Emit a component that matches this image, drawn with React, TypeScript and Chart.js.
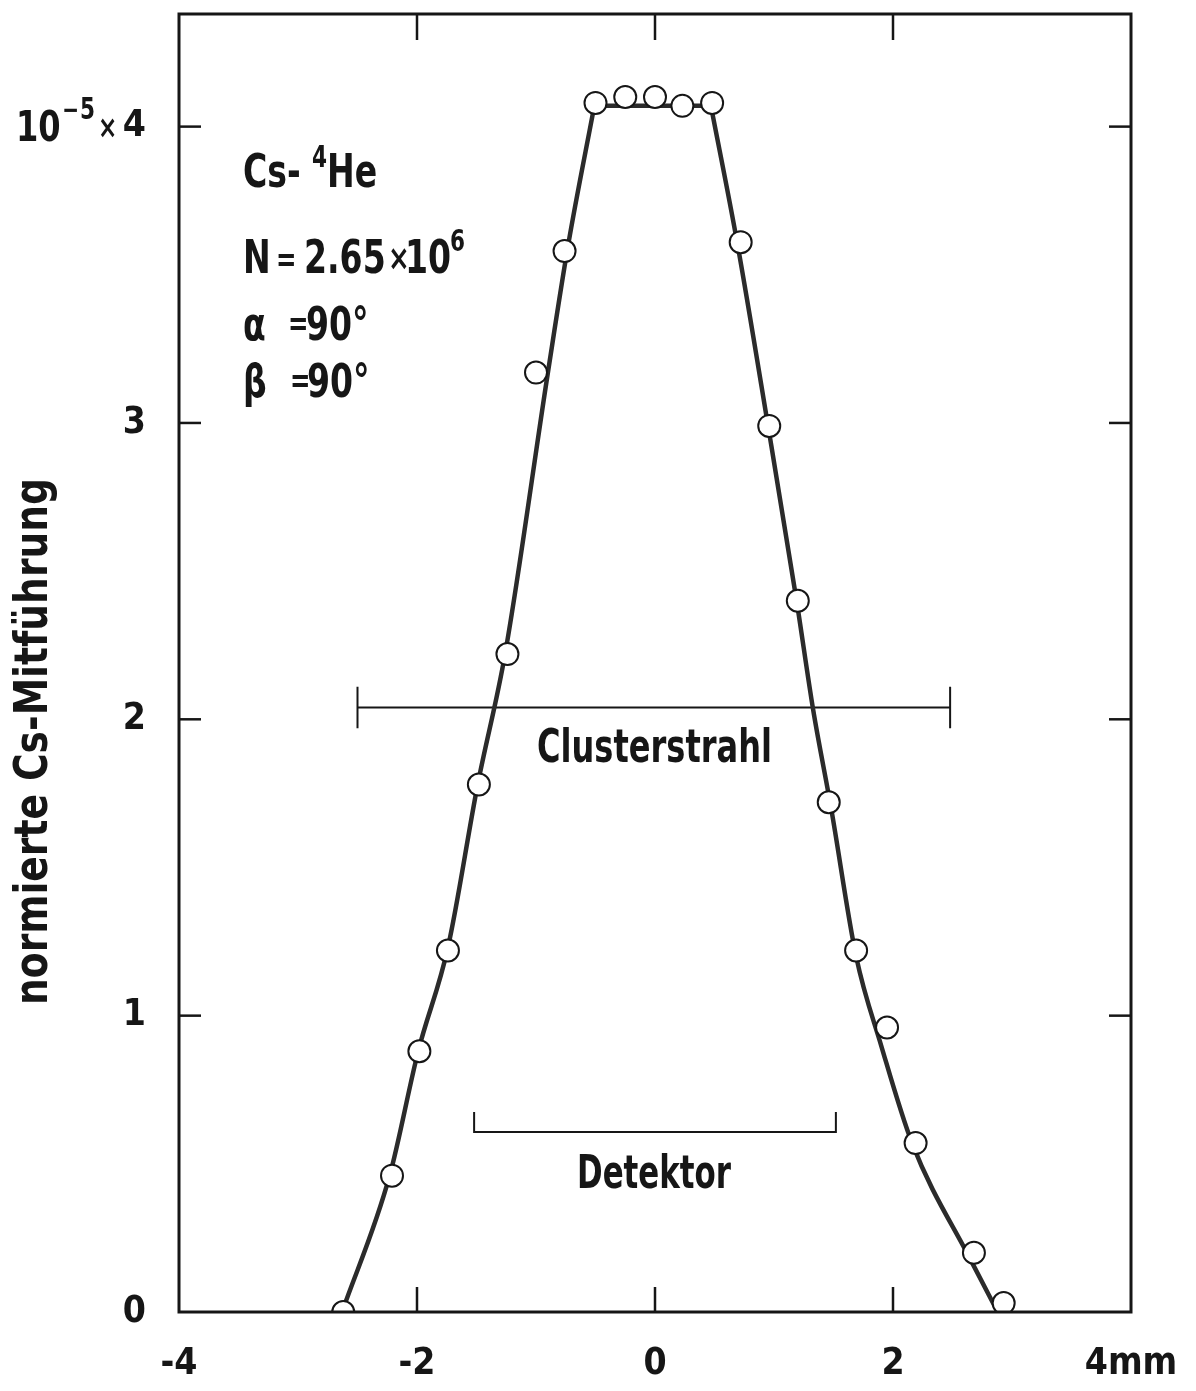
import React, { useEffect, useRef } from 'react';
import { Chart, registerables } from 'chart.js';

Chart.register(...registerables);

const FONT = "'Liberation Sans Narrow', 'DejaVu Sans Condensed', 'Roboto Condensed', 'Liberation Sans', sans-serif";
const INK = '#161616';

// measured points (x in mm, y in units of 1e-5)
const pointX = [-2.62, -2.21, -1.98, -1.74, -1.48, -1.24, -1.0, -0.76, -0.5, -0.25, 0.0, 0.23, 0.48, 0.72, 0.96, 1.2, 1.46, 1.69, 1.95, 2.19, 2.68, 2.93];
const pointY = [0.0, 0.46, 0.88, 1.22, 1.78, 2.22, 3.17, 3.58, 4.08, 4.1, 4.1, 4.07, 4.08, 3.61, 2.99, 2.4, 1.72, 1.22, 0.96, 0.57, 0.2, 0.03];

// drawn fit curve, split at the plateau corners
const curveLeftX = [-2.63, -2.23, -1.99, -1.74, -1.49, -1.26, -0.9, -0.73, -0.51];
const curveLeftY = [0.0, 0.46, 0.88, 1.23, 1.78, 2.22, 3.17, 3.6, 4.07];
const curveTopX = [-0.51, 0.47];
const curveTopY = [4.07, 4.07];
const curveRightX = [0.47, 0.69, 0.95, 1.19, 1.33, 1.48, 1.69, 1.9, 2.16, 2.66, 2.88];
const curveRightY = [4.07, 3.61, 2.99, 2.4, 2.03, 1.7, 1.2, 0.9, 0.57, 0.17, 0.0];

// range brackets
const clusterRange = [-2.5, 2.48];
const clusterLevel = 2.04;
const clusterCap = [1.97, 2.11];
const detektorRange = [-1.52, 1.52];
const detektorLevel = 0.607;
const detektorCapTop = 0.675;

// axes
const xMin = -4;
const xMax = 4;
const yMin = 0;
const yMax = 4.38;
const xTickStep = 2;
const yTickStep = 1;
const innerXTicks = [-2, 0, 2];
const innerYTicks = [1, 2, 3, 4];

const zip = (xs: number[], ys: number[]) => xs.map((x, i) => ({ x, y: ys[i] }));

const font = (size: number) => `bold ${size}px ${FONT}`;

const SX = 0.8;

const squeezeText = (ctx: CanvasRenderingContext2D, text: string, x: number, y: number, size: number, sx = SX) => {
  ctx.font = font(size);
  ctx.save();
  ctx.translate(x, y);
  ctx.scale(sx, 1);
  ctx.fillText(text, 0, 0);
  ctx.restore();
};

const fitText = (ctx: CanvasRenderingContext2D, text: string, x: number, y: number, size: number, width: number) => {
  ctx.font = font(size);
  const w = ctx.measureText(text).width;
  squeezeText(ctx, text, x, y, size, width / w);
};

const decorPlugin = {
  id: 'decor',
  afterDatasetsDraw(chart: any) {
    const { ctx, chartArea: a, scales } = chart;
    const xs = scales.x;
    const ys = scales.y;
    const seg = (x1: number, y1: number, x2: number, y2: number) => {
      ctx.beginPath();
      ctx.moveTo(x1, y1);
      ctx.lineTo(x2, y2);
      ctx.stroke();
    };
    ctx.save();
    ctx.strokeStyle = INK;
    ctx.lineCap = 'butt';
    ctx.lineWidth = 3;
    ctx.strokeRect(a.left, a.top, a.right - a.left, a.bottom - a.top);
    ctx.lineWidth = 2.5;
    for (const v of innerXTicks) {
      const px = xs.getPixelForValue(v);
      seg(px, a.bottom, px, a.bottom - 25);
      seg(px, a.top, px, a.top + 26);
    }
    for (const v of innerYTicks) {
      const py = ys.getPixelForValue(v);
      seg(a.left, py, a.left + 22, py);
      seg(a.right, py, a.right - 22, py);
    }

    ctx.fillStyle = INK;
    ctx.textBaseline = 'alphabetic';
    ctx.textAlign = 'left';

    // prefix of the top y tick label: 10^-5 x
    const p4 = ys.getPixelForValue(4);
    squeezeText(ctx, '10', 16, p4 + 14, 42, 0.85);
    squeezeText(ctx, '\u2212', 62, p4 - 8, 28, 0.8);
    squeezeText(ctx, '5', 80, p4 - 8, 30, 0.8);
    squeezeText(ctx, '\u00d7', 98, p4 + 11, 32, 0.8);

    // annotations
    squeezeText(ctx, 'Cs-', 243, 187, 46);
    squeezeText(ctx, '4', 312, 167, 30);
    squeezeText(ctx, 'He', 327, 187, 46);

    squeezeText(ctx, 'N', 243, 273, 46);
    squeezeText(ctx, '=', 276, 271, 34);
    squeezeText(ctx, '2.65', 304, 273, 46);
    squeezeText(ctx, '\u00d7', 388, 270, 36);
    squeezeText(ctx, '10', 405, 273, 46);
    squeezeText(ctx, '6', 450, 251, 30);

    squeezeText(ctx, '\u03b1', 243, 340, 46);
    squeezeText(ctx, '=', 288, 335, 34);
    squeezeText(ctx, '90\u00b0', 306, 340, 46);

    squeezeText(ctx, '\u03b2', 243, 397, 46);
    squeezeText(ctx, '=', 290, 392, 34);
    squeezeText(ctx, '90\u00b0', 307, 397, 46);

    fitText(ctx, 'Clusterstrahl', 537, 762, 46, 235);
    fitText(ctx, 'Detektor', 577, 1188, 46, 154);

    // y axis title
    ctx.save();
    ctx.translate(47, 1005);
    ctx.rotate(-Math.PI / 2);
    fitText(ctx, 'normierte Cs-Mitf\u00fchrung', 0, 0, 47, 527);
    ctx.restore();

    ctx.restore();
  },
};

const zeroPad = (s: any) => {
  s.paddingTop = 0;
  s.paddingBottom = 0;
  s.paddingLeft = 0;
  s.paddingRight = 0;
};

export default function App() {
  const ref = useRef<HTMLCanvasElement>(null);
  useEffect(() => {
    if (!ref.current) return;
    const lineDs = (data: any[], width: number) => ({
      type: 'line' as const,
      data,
      showLine: true,
      borderColor: '#2b2b2b',
      borderWidth: width,
      pointRadius: 0,
      fill: false,
      cubicInterpolationMode: 'monotone' as const,
    });
    const bracket = (data: any[]) => ({
      type: 'line' as const,
      data,
      showLine: true,
      borderColor: INK,
      borderWidth: 2,
      pointRadius: 0,
      tension: 0,
      fill: false,
    });
    const chart = new Chart(ref.current, {
      type: 'scatter',
      data: {
        datasets: [
          {
            data: zip(pointX, pointY),
            pointRadius: 11,
            pointBackgroundColor: '#ffffff',
            pointBorderColor: INK,
            pointBorderWidth: 2,
            showLine: false,
          } as any,
          lineDs(zip(curveLeftX, curveLeftY), 4.5),
          lineDs(zip(curveTopX, curveTopY), 4.5),
          lineDs(zip(curveRightX, curveRightY), 4.5),
          bracket([
            { x: clusterRange[0], y: clusterCap[1] },
            { x: clusterRange[0], y: clusterCap[0] },
            { x: clusterRange[0], y: clusterLevel },
            { x: clusterRange[1], y: clusterLevel },
            { x: clusterRange[1], y: clusterCap[0] },
            { x: clusterRange[1], y: clusterCap[1] },
          ]),
          bracket([
            { x: detektorRange[0], y: detektorCapTop },
            { x: detektorRange[0], y: detektorLevel },
            { x: detektorRange[1], y: detektorLevel },
            { x: detektorRange[1], y: detektorCapTop },
          ]),
        ],
      },
      options: {
        animation: false,
        responsive: true,
        maintainAspectRatio: false,
        layout: { padding: { top: 14, right: 65, left: 0, bottom: 0 } },
        plugins: { legend: { display: false }, tooltip: { enabled: false } },
        scales: {
          x: {
            type: 'linear',
            min: xMin,
            max: xMax,
            afterFit: (s: any) => { s.height = 79; zeroPad(s); },
            grid: { display: false, drawTicks: false },
            border: { display: false },
            ticks: {
              stepSize: xTickStep,
              includeBounds: false,
              autoSkip: false,
              maxRotation: 0,
              padding: 30,
              color: INK,
              font: { size: 37, weight: 'bold', family: FONT },
              callback: (v: any) => (v === xMax ? '4mm' : String(v)),
            },
          },
          y: {
            type: 'linear',
            min: yMin,
            max: yMax,
            afterFit: (s: any) => { s.width = 179; zeroPad(s); },
            grid: { display: false, drawTicks: false },
            border: { display: false },
            ticks: {
              stepSize: yTickStep,
              includeBounds: false,
              autoSkip: false,
              padding: 33,
              color: INK,
              font: { size: 37, weight: 'bold', family: FONT },
              callback: (v: any) => String(v),
            },
          },
        },
      } as any,
      plugins: [decorPlugin],
    });
    return () => chart.destroy();
  }, []);
  return (
    <div style={{ position: 'absolute', left: 0, top: 0, width: 1196, height: 1391, background: '#fff' }}>
      <canvas ref={ref} />
    </div>
  );
}
